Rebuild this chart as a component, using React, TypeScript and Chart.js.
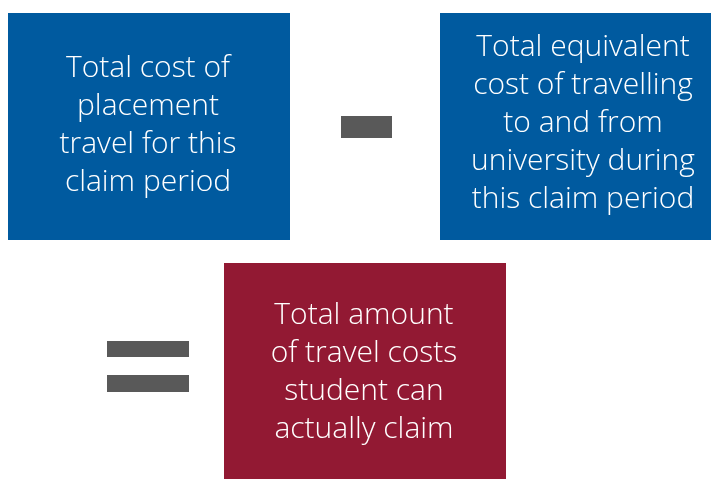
import React, { useEffect, useRef } from "react";
import { Chart, registerables } from "chart.js";

Chart.register(...registerables);

// Diagram boxes (in diagram units: x 0..711, y 0..479, y downwards)
const boxNames = ["placement", "university", "claim"];
const boxLeft = [8, 440, 224];
const boxRight = [290, 711, 506];
const boxTop = [13, 13, 263];
const boxBottom = [240, 240, 479];
const boxColors = ["#005A9F", "#005A9F", "#921933"];
const boxLines = [
  ["Total cost of", "placement", "travel for this", "claim period"],
  ["Total equivalent", "cost of travelling", "to and from", "university during", "this claim period"],
  ["Total amount", "of travel costs", "student can", "actually claim"],
];
const textCenterX = [148, 583, 364];
const textBaselineMid = [133.5, 132, 381];
const lineGap = 38;

// Operator bars (minus and equals)
const opLeft = [341, 107, 107];
const opRight = [392, 189, 189];
const opTop = [116, 341, 375];
const opBottom = [138, 357, 392];
const opColor = "#595959";

const diagramPlugin = {
  id: "diagram",
  afterDatasetsDraw(chart: any) {
    const { ctx, scales } = chart;
    const xs = scales.x;
    const ys = scales.y;
    ctx.save();
    boxNames.forEach((_, i) => {
      const x0 = xs.getPixelForValue(boxLeft[i]);
      const x1 = xs.getPixelForValue(boxRight[i]);
      const y0 = ys.getPixelForValue(boxTop[i]);
      const y1 = ys.getPixelForValue(boxBottom[i]);
      ctx.fillStyle = boxColors[i];
      ctx.fillRect(x0, y0, x1 - x0, y1 - y0);
      ctx.fillStyle = "#ffffff";
      ctx.font = "300 30px 'Open Sans', sans-serif";
      ctx.textAlign = "center";
      ctx.textBaseline = "alphabetic";
      const lines = boxLines[i];
      const n = lines.length;
      lines.forEach((t, j) => {
        const yv = textBaselineMid[i] + (j - (n - 1) / 2) * lineGap;
        ctx.fillText(t, xs.getPixelForValue(textCenterX[i]), ys.getPixelForValue(yv));
      });
    });
    opLeft.forEach((_, i) => {
      const x0 = xs.getPixelForValue(opLeft[i]);
      const x1 = xs.getPixelForValue(opRight[i]);
      const y0 = ys.getPixelForValue(opTop[i]);
      const y1 = ys.getPixelForValue(opBottom[i]);
      ctx.fillStyle = opColor;
      ctx.fillRect(x0, y0, x1 - x0, y1 - y0);
    });
    ctx.restore();
  },
};

export default function App() {
  const ref = useRef<HTMLCanvasElement>(null);
  useEffect(() => {
    document.body.style.margin = "0";
    const chart = new Chart(ref.current!, {
      type: "scatter",
      data: { datasets: [{ data: [] }] },
      options: {
        animation: false,
        responsive: false,
        maintainAspectRatio: false,
        layout: { padding: 0 },
        plugins: { legend: { display: false }, tooltip: { enabled: false } },
        scales: {
          x: { type: "linear", min: 0, max: 711, display: false },
          y: { type: "linear", min: 0, max: 479, reverse: true, display: false },
        },
      },
      plugins: [diagramPlugin],
    });
    return () => chart.destroy();
  }, []);
  return (
    <div style={{ width: 711, height: 479, background: "#ffffff" }}>
      <canvas ref={ref} width={711} height={479} style={{ display: "block" }} />
    </div>
  );
}
